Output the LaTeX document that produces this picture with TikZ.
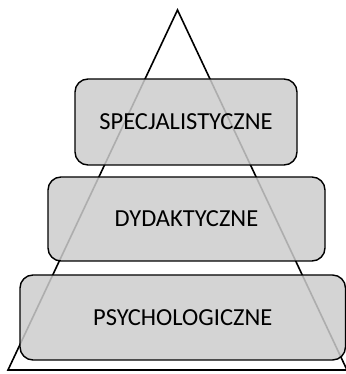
\documentclass[tikz,border=0pt]{standalone}
\usepackage{fontspec}
\setmainfont{Carlito}
\usetikzlibrary{positioning}

\begin{document}
\begin{tikzpicture}[x=1pt,y=1pt]
                    \tikzstyle{every node}=[inner sep=0,font=\fontsize{24.5}{28}\selectfont]
                    \tikzstyle{tier}=[draw=black,line width=1.4,rectangle,rounded corners=13,fill=black!20,fill opacity=0.85,text opacity=1]
                    \tikzstyle{peak}=[coordinate]
                    {
                        \useasboundingbox (0,0) rectangle (345,374);

                        \node[peak] (top) at (177.5,364) {};
                        \node[peak] (bl) at (8,4) {};
                        \node[peak] (br) at (347,4) {};
                        \draw[line width=1.6,line join=miter] (bl) -- (top) -- (br) -- cycle;

                        \node[tier,minimum width=222,minimum height=86] (spec) at (186,252) {SPECJALISTYCZNE};
                        \node[tier,minimum width=277,minimum height=84] (dyd) at (186.5,155) {DYDAKTYCZNE};
                        \node[tier,minimum width=325.5,minimum height=85] (psych) at (182.75,56.5) {PSYCHOLOGICZNE};
                    }
                \end{tikzpicture}
\end{document}
